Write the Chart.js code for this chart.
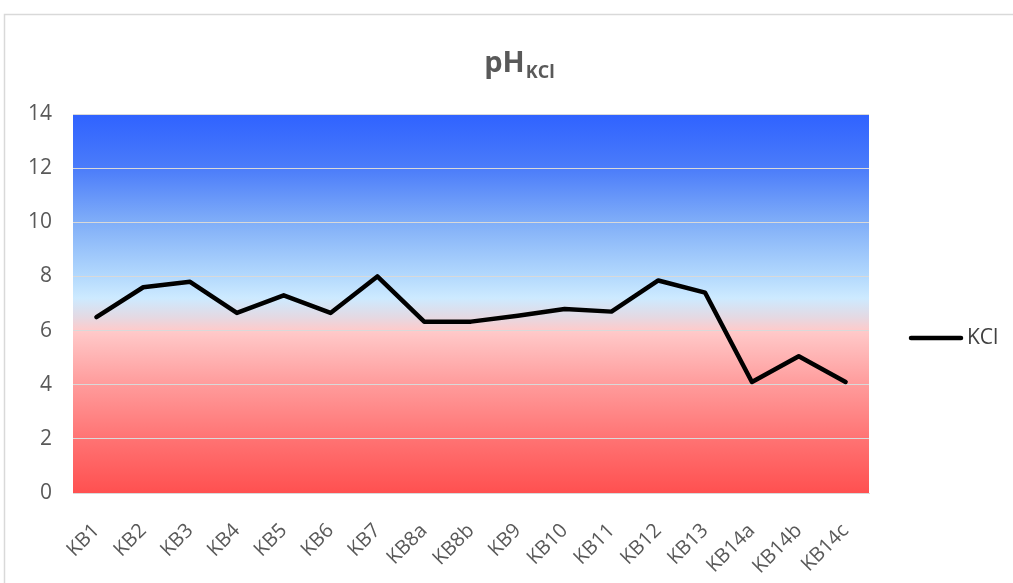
<!DOCTYPE html>
<html>
<head>
<meta charset="utf-8">
<script src="https://cdn.jsdelivr.net/npm/chart.js@4"></script>
<style>
  html, body { margin: 0; padding: 0; background: #fff; }
  #wrap { width: 1013px; height: 583px; position: relative; }
</style>
</head>
<body>
<div id="wrap"><canvas id="phChart"></canvas></div>
<script>
// Dane
const categories = ['KB1', 'KB2', 'KB3', 'KB4', 'KB5', 'KB6', 'KB7', 'KB8a', 'KB8b',
  'KB9', 'KB10', 'KB11', 'KB12', 'KB13', 'KB14a', 'KB14b', 'KB14c'];
const kclValues = [6.5, 7.6, 7.8, 6.65, 7.3, 6.65, 8.0, 6.33, 6.33,
  6.55, 6.8, 6.7, 7.85, 7.4, 4.1, 5.05, 4.1];
const yTicks = [0, 2, 4, 6, 8, 10, 12, 14];
// Kolory tła: [wartość pH, kolor]
const bgStops = [[14, '#2f62ff'], [12, '#4b7cfa'], [10, '#80aef8'], [8, '#b3d9fd'],
  [7.2, '#cdeaff'], [6.5, '#e4d9e3'], [6, '#ffcaca'], [4, '#ff9b9b'], [2, '#ff7373'], [0, '#ff5050']];

const gray = '#595959';
const font = '"Open Sans", "DejaVu Sans", sans-serif';

// Tło z gradientem + ramka + tytuł z indeksem dolnym + legenda
const decor = {
  id: 'decor',
  beforeDraw(chart) {
    const { ctx, chartArea: a, scales } = chart;
    ctx.save();
    ctx.strokeStyle = '#d9d9d9';
    ctx.lineWidth = 1.5;
    ctx.strokeRect(4.5, 14.5, 1100, 700);
    const top = scales.y.getPixelForValue(14);
    const bottom = scales.y.getPixelForValue(0);
    const g = ctx.createLinearGradient(0, top, 0, bottom);
    bgStops.forEach(([v, c]) => {
      g.addColorStop((scales.y.getPixelForValue(v) - top) / (bottom - top), c);
    });
    ctx.fillStyle = g;
    ctx.fillRect(a.left, top, a.right - a.left, bottom - top);
    ctx.restore();
  },
  afterDraw(chart) {
    const { ctx, chartArea: a } = chart;
    ctx.save();
    ctx.fillStyle = gray;
    ctx.textBaseline = 'alphabetic';
    ctx.font = 'bold 29px ' + font;
    const w1 = ctx.measureText('pH').width;
    ctx.font = 'bold 18px ' + font;
    const w2 = ctx.measureText('KCl').width;
    const x0 = (a.left + a.right) / 2 + 48 - (w1 + w2) / 2;
    ctx.font = 'bold 29px ' + font;
    ctx.fillText('pH', x0, 72);
    ctx.font = 'bold 18px ' + font;
    ctx.fillText('KCl', x0 + w1 + 1, 78);

    // Legenda
    const ly = 338;
    ctx.strokeStyle = '#000';
    ctx.lineWidth = 4.5;
    ctx.lineCap = 'round';
    ctx.beginPath();
    ctx.moveTo(911, ly);
    ctx.lineTo(961, ly);
    ctx.stroke();
    ctx.fillStyle = '#404040';
    ctx.font = '21px ' + font;
    ctx.textBaseline = 'middle';
    ctx.fillText(chart.data.datasets[0].label, 967, ly);
    ctx.restore();
  }
};

const ctx = document.getElementById('phChart').getContext('2d');
new Chart(ctx, {
  type: 'line',
  data: {
    labels: categories,
    datasets: [{
      label: 'KCl',
      data: kclValues,
      borderColor: '#000',
      borderWidth: 4.5,
      borderJoinStyle: 'round',
      borderCapStyle: 'round',
      pointRadius: 0,
      tension: 0,
      fill: false
    }]
  },
  options: {
    responsive: true,
    maintainAspectRatio: false,
    animation: false,
    layout: { padding: { left: 0, top: 114, right: 144, bottom: 0 } },
    plugins: {
      legend: { display: false },
      title: { display: false },
      tooltip: { enabled: false }
    },
    scales: {
      x: {
        offset: true,
        grid: { display: false, drawTicks: false },
        border: { display: true, color: '#d9d9d9', width: 1 },
        ticks: {
          color: gray,
          font: { family: font, size: 20 },
          minRotation: 45,
          maxRotation: 45,
          padding: 26,
          autoSkip: false
        },
        afterFit(s) { s.height = 90; }
      },
      y: {
        min: 0,
        max: 14,
        afterBuildTicks(s) { s.ticks = yTicks.map(v => ({ value: v })); },
        grid: { color: '#d9d9d9', lineWidth: 1, drawTicks: false },
        border: { display: false },
        ticks: {
          color: gray,
          font: { family: font, size: 21 },
          padding: 21
        },
        afterFit(s) { s.width = 73; }
      }
    }
  },
  plugins: [decor]
});
</script>
</body>
</html>
